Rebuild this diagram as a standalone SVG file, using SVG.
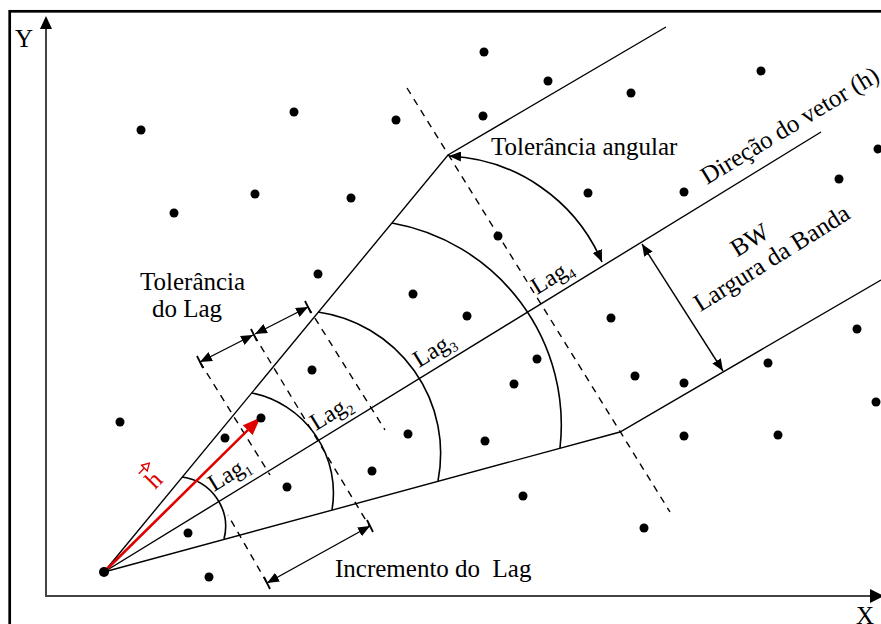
<svg xmlns="http://www.w3.org/2000/svg" width="881" height="624" viewBox="0 0 881 624">
<defs>
<style>
.ln{stroke:#000;stroke-width:1.4;fill:none}
.arc{stroke:#000;stroke-width:1.6;fill:none}
.dash{stroke:#000;stroke-width:1.4;fill:none;stroke-dasharray:7 6}
.dim{stroke:#000;stroke-width:1.4;fill:none;marker-start:url(#ah);marker-end:url(#ah)}
.tick{stroke:#000;stroke-width:1.8}
.axis{stroke:#444;stroke-width:2;fill:none}
.t{font-family:"Liberation Serif","Times New Roman",serif;font-size:25px;fill:#000}
.lag{font-family:"Liberation Serif","Times New Roman",serif;font-size:24px;fill:#000}
.sub{font-size:14px}
.dot{fill:#000}
</style>
<marker id="ah" viewBox="0 0 12 10" refX="12" refY="5" markerWidth="12" markerHeight="10" markerUnits="userSpaceOnUse" orient="auto-start-reverse">
<path d="M0,0 L12,5 L0,10 Z" fill="#000"/>
</marker>
<marker id="rah" viewBox="0 0 18 14" refX="16" refY="7" markerWidth="18" markerHeight="14" markerUnits="userSpaceOnUse" orient="auto">
<path d="M0,0 L18,7 L0,14 Z" fill="#e00000"/>
</marker>
</defs>
<rect x="0" y="0" width="881" height="624" fill="#fff"/>
<rect x="9.7" y="11.3" width="900" height="700" fill="none" stroke="#000" stroke-width="2.7"/>

<g id="axes">
<line class="axis" x1="46" y1="597" x2="46" y2="26"/>
<path d="M46,16 L40,29 L52,29 Z" fill="#000"/>
<line class="axis" x1="45" y1="596" x2="872" y2="596"/>
<path d="M884,596 L870,589 L870,603 Z" fill="#000"/>
<text class="t" x="15" y="47">Y</text>
<text class="t" x="856" y="624">X</text>
</g>

<g id="connectors">
<path class="ln" d="M104,572 L448,155 L666,27"/>
<path class="ln" d="M104,572 L821,132"/>
<path class="ln" d="M104,572 L620,432 L881,280"/>
<path class="arc" d="M182,477 A50,50 0 0,1 224,539"/>
<path class="arc" d="M252,393 A102,102 0 0,1 332,510"/>
<path class="arc" d="M318,312 A143,143 0 0,1 438,481"/>
<path class="arc" d="M392,223 A205,205 0 0,1 560,448"/>
<path class="arc" d="M449,156 A175,175 0 0,1 602,262" style="marker-start:url(#ah);marker-end:url(#ah)"/>
<line class="dash" x1="407" y1="88" x2="670" y2="512"/>
<line class="dash" x1="200" y1="362" x2="270" y2="475"/>
<line class="dash" x1="254" y1="335" x2="370" y2="527"/>
<line class="dash" x1="308" y1="307" x2="385" y2="430"/>
<line class="dash" x1="267" y1="583" x2="228" y2="515"/>
<line class="dim" x1="200" y1="362" x2="253" y2="335"/>
<line class="dim" x1="255" y1="334" x2="308" y2="307"/>
<line class="tick" x1="197" y1="356" x2="203" y2="368"/>
<line class="tick" x1="251" y1="329" x2="257" y2="341"/>
<line class="tick" x1="305" y1="301" x2="311" y2="313"/>
<line class="dim" x1="267" y1="583" x2="370" y2="526"/>
<line class="tick" x1="264" y1="577" x2="270" y2="589"/>
<line class="tick" x1="367" y1="520" x2="373" y2="532"/>
<line class="dim" x1="642" y1="244" x2="723" y2="371"/>
<line x1="104" y1="572" x2="259" y2="419" stroke="#e00000" stroke-width="2.6" marker-end="url(#rah)"/>
</g>

<g id="points">
<circle class="dot" cx="104" cy="572" r="5"/>
<circle class="dot" cx="141" cy="130" r="4.5"/>
<circle class="dot" cx="294" cy="112" r="4.5"/>
<circle class="dot" cx="174" cy="213" r="4.5"/>
<circle class="dot" cx="255" cy="194" r="4.5"/>
<circle class="dot" cx="484" cy="52" r="4.5"/>
<circle class="dot" cx="548" cy="81" r="4.5"/>
<circle class="dot" cx="631" cy="93" r="4.5"/>
<circle class="dot" cx="483" cy="116" r="4.5"/>
<circle class="dot" cx="396" cy="120" r="4.5"/>
<circle class="dot" cx="761" cy="71" r="4.5"/>
<circle class="dot" cx="588" cy="193" r="4.5"/>
<circle class="dot" cx="684" cy="192" r="4.5"/>
<circle class="dot" cx="878" cy="149" r="4.5"/>
<circle class="dot" cx="839" cy="179" r="4.5"/>
<circle class="dot" cx="351" cy="198" r="4.5"/>
<circle class="dot" cx="498" cy="236" r="4.5"/>
<circle class="dot" cx="318" cy="274" r="4.5"/>
<circle class="dot" cx="413" cy="294" r="4.5"/>
<circle class="dot" cx="467" cy="316" r="4.5"/>
<circle class="dot" cx="611" cy="318" r="4.5"/>
<circle class="dot" cx="537" cy="359" r="4.5"/>
<circle class="dot" cx="514" cy="384" r="4.5"/>
<circle class="dot" cx="635" cy="376" r="4.5"/>
<circle class="dot" cx="684" cy="383" r="4.5"/>
<circle class="dot" cx="768" cy="363" r="4.5"/>
<circle class="dot" cx="857" cy="329" r="4.5"/>
<circle class="dot" cx="876" cy="402" r="4.5"/>
<circle class="dot" cx="485" cy="441" r="4.5"/>
<circle class="dot" cx="408" cy="434" r="4.5"/>
<circle class="dot" cx="684" cy="436" r="4.5"/>
<circle class="dot" cx="778" cy="435" r="4.5"/>
<circle class="dot" cx="312" cy="370" r="4.5"/>
<circle class="dot" cx="261" cy="418" r="4.5"/>
<circle class="dot" cx="225" cy="438" r="4.5"/>
<circle class="dot" cx="372" cy="471" r="4.5"/>
<circle class="dot" cx="287" cy="487" r="4.5"/>
<circle class="dot" cx="120" cy="422" r="4.5"/>
<circle class="dot" cx="188" cy="533" r="4.5"/>
<circle class="dot" cx="209" cy="577" r="4.5"/>
<circle class="dot" cx="523" cy="496" r="4.5"/>
<circle class="dot" cx="644" cy="528" r="4.5"/>
</g>

<g id="labels">
<text class="t" x="491" y="155">Tolerância angular</text>
<text class="t" x="140" y="290">Tolerância</text>
<text class="t" x="152" y="317">do Lag</text>
<text class="t" x="335" y="577" xml:space="preserve">Incremento do  Lag</text>
<g transform="translate(707,185) rotate(-31.2)"><text class="t" x="0" y="0">Direção do vetor (h)</text></g>
<g transform="translate(776,265) rotate(-32)">
<text class="t" x="0" y="0" text-anchor="middle">Largura da Banda</text>
<text class="t" x="-9" y="-27" text-anchor="middle">BW</text>
</g>
<g transform="translate(214,492) rotate(-31.5)"><text class="lag">Lag<tspan class="sub" dy="5">1</tspan></text></g>
<g transform="translate(316,431) rotate(-31.5)"><text class="lag">Lag<tspan class="sub" dy="5">2</tspan></text></g>
<g transform="translate(419,368) rotate(-31.5)"><text class="lag">Lag<tspan class="sub" dy="5">3</tspan></text></g>
<g transform="translate(537,295) rotate(-31.5)"><text class="lag">Lag<tspan class="sub" dy="5">4</tspan></text></g>
<g transform="translate(155,490) rotate(-45)" fill="#e00000" stroke="#e00000">
<text x="0" y="0" stroke="none" style="font-family:'Liberation Serif','Times New Roman',serif;font-size:25px">h</text>
<line x1="0" y1="-23" x2="8" y2="-23" stroke-width="1.3"/>
<path d="M8,-27 L15,-23 L8,-19 Z" fill="#fff" stroke-width="1.3"/>
</g>
</g>
</svg>
